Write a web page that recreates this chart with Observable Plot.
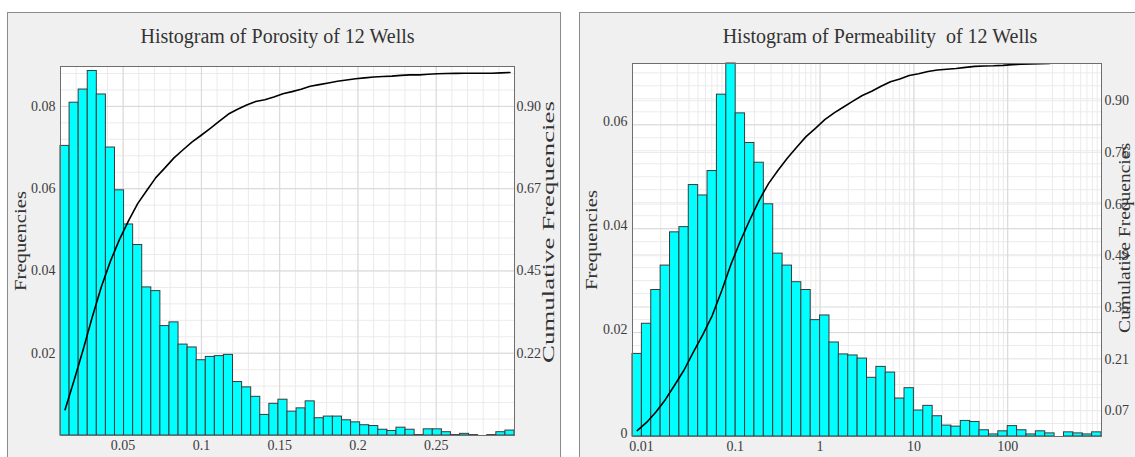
<!DOCTYPE html>
<html>
<head>
<meta charset="utf-8">
<script src="https://cdn.jsdelivr.net/npm/d3@7"></script>
<script src="https://cdn.jsdelivr.net/npm/@observablehq/plot@0.6"></script>
<style>
  html, body { margin: 0; padding: 0; background: #ffffff; }
  body { width: 1135px; height: 457px; overflow: hidden; position: relative; }
  .panel { position: absolute; top: 12px; height: 460px; background: #f0f0f0; border: 1px solid #8c8c8c; overflow: hidden; }
  .title { height: 40px; box-sizing: border-box; padding-top: 12px; font-family: 'Liberation Serif', 'Times New Roman', serif; font-size: 20px; line-height: 23px; color: #333; text-align: center; white-space: pre; }
</style>
</head>
<body>
<div class="panel" style="left:7px; width:552px;">
  <div class="title" style="width:539px;">Histogram of Porosity of 12 Wells</div>
  <div id="chart1"></div>
</div>
<div class="panel" style="left:579px; width:600px;">
  <div class="title" style="width:600px;">Histogram of Permeability  of 12 Wells</div>
  <div id="chart2"></div>
</div>
<script>
// ---------- Porosity histogram (left) ----------
const porosityRange = [0.01, 0.30];          // histogram range (50 equal bins)
const porosityFreq = [
  0.0704, 0.0809, 0.0841, 0.0886, 0.0829, 0.0700, 0.0596, 0.0513, 0.0463, 0.0360,
  0.0351, 0.0266, 0.0275, 0.0221, 0.0214, 0.0183, 0.0191, 0.0193, 0.0196, 0.0130,
  0.0117, 0.0094, 0.0050, 0.0077, 0.0087, 0.0058, 0.0066, 0.0083, 0.0042, 0.0046,
  0.0046, 0.0037, 0.0032, 0.0025, 0.0023, 0.0014, 0.0011, 0.0019, 0.0014, 0.0001,
  0.0015, 0.0015, 0.0008, 0.0001, 0.0004, 0.0001, 0.0000, 0.0001, 0.0008, 0.0012
];
const porosityXTicks = [0.05, 0.1, 0.15, 0.2, 0.25];
const porosityXLabels = ["0.05", "0.1", "0.15", "0.2", "0.25"];
const porosityYTicks = [0.02, 0.04, 0.06, 0.08];
const porosityYLabels = ["0.02", "0.04", "0.06", "0.08"];
const porosityCumTicks = [0.225, 0.45, 0.675, 0.9];
const porosityCumLabels = ["0.22", "0.45", "0.67", "0.90"];
const porosityYMax = 0.0897;
const porosityAxisMatch = {freq: 0.08, cum: 0.90};   // right axis value aligned with left axis value

// ---------- Permeability histogram (right, log x) ----------
const permLog10Range = [-2, 3];               // 0.01 .. 1000, 50 equal log bins
const permFreq = [
  0.0159, 0.0217, 0.0282, 0.0329, 0.0393, 0.0403, 0.0484, 0.0464, 0.0511, 0.0658,
  0.0718, 0.0622, 0.0565, 0.0527, 0.0447, 0.0352, 0.0329, 0.0297, 0.0282, 0.0224,
  0.0233, 0.0181, 0.0158, 0.0156, 0.0150, 0.0113, 0.0134, 0.0123, 0.0073, 0.0093,
  0.0050, 0.0059, 0.0039, 0.0021, 0.0019, 0.0030, 0.0028, 0.0012, 0.0004, 0.0010,
  0.0020, 0.0012, 0.0004, 0.0010, 0.0006, 0.0000, 0.0008, 0.0006, 0.0004, 0.0008
];
const permXTicksLow = [0.01, 0.1];           // these two labels sit right of their ticks in the reference
const permXLabelsLow = ["0.01", "0.1"];
const permXTicksHigh = [1, 10, 100];
const permXLabelsHigh = ["1", "10", "100"];
const permYTicks = [0, 0.02, 0.04, 0.06];
const permYLabels = ["0", "0.02", "0.04", "0.06"];
const permCumTicks = [0.0692, 0.2077, 0.3462, 0.4846, 0.6231, 0.7615, 0.9];
const permCumLabels = ["0.07", "0.21", "0.35", "0.49", "0.62", "0.76", "0.90"];
const permYMax = 0.0718;
const permAxisMatch = {freq: 0.0718, cum: 1.0};
const permCurveBins = 45;                      // cumulative curve drawn through first 45 bins

// ---------- helpers ----------
const FONT = "'Liberation Serif', 'Times New Roman', serif";
const MINOR = "#ebebeb", MAJOR = "#d8d8d8";
const labeler = (ticks, labels) => d => { const i = ticks.indexOf(d); return i >= 0 ? labels[i] : ""; };

// porosity bins
const nP = porosityFreq.length;
const wP = (porosityRange[1] - porosityRange[0]) / nP;
const porosityBins = porosityFreq.map((f, i) => ({
  x1: porosityRange[0] + i * wP, x2: porosityRange[0] + (i + 1) * wP,
  xc: porosityRange[0] + (i + 0.5) * wP, f
}));
const porosityCum = d3.cumsum(porosityFreq);
const kP = porosityAxisMatch.freq / porosityAxisMatch.cum;
const porosityCurve = porosityBins.map((b, i) => ({xc: b.xc, y: porosityCum[i] * kP}));
const porosityCumT = porosityCumTicks.map(c => c * kP);

// permeability bins
const nK = permFreq.length;
const dK = (permLog10Range[1] - permLog10Range[0]) / nK;
const permBins = permFreq.map((f, i) => ({
  x1: 10 ** (permLog10Range[0] + i * dK), x2: 10 ** (permLog10Range[0] + (i + 1) * dK),
  xc: 10 ** (permLog10Range[0] + (i + 0.5) * dK), f
}));
const permCum = d3.cumsum(permFreq);
const kK = permAxisMatch.freq / permAxisMatch.cum;
const permCurve = permBins.slice(0, permCurveBins).map((b, i) => ({xc: b.xc, y: permCum[i] * kK}));
const permCumT = permCumTicks.map(c => c * kK);
const permDomain = [10 ** permLog10Range[0], 10 ** permLog10Range[1]];
const permMinorX = d3.scaleLog().domain(permDomain).ticks();
const permMajorX = permXTicksLow.concat(permXTicksHigh);

const style = {fontFamily: FONT, fontSize: "14px", color: "#3c3c3c", background: "transparent", overflow: "visible"};
const axisTitle = {text: d => d, rotate: -90, textAnchor: "middle", lineAnchor: "middle", fontSize: 16, fill: "#333"};

const chart1 = Plot.plot({
  width: 552, height: 410,
  marginLeft: 52, marginRight: 46, marginTop: 13, marginBottom: 28,
  style,
  x: {domain: porosityRange},
  y: {domain: [0, porosityYMax]},
  marks: [
    Plot.frame({fill: "white", stroke: null}),
    Plot.gridX({ticks: d3.range(0.01, 0.2999, 0.01), stroke: MINOR, strokeOpacity: 1}),
    Plot.gridY({ticks: d3.range(0.004, porosityYMax, 0.004), stroke: MINOR, strokeOpacity: 1}),
    Plot.gridX({ticks: porosityXTicks, stroke: MAJOR, strokeOpacity: 1}),
    Plot.gridY({ticks: porosityYTicks, stroke: MAJOR, strokeOpacity: 1}),
    Plot.rectY(porosityBins, {x1: "x1", x2: "x2", y: "f", inset: 0, fill: "#00ffff", stroke: "#3a3a3a", strokeWidth: 1}),
    Plot.line(porosityCurve, {x: "xc", y: "y", stroke: "#000", strokeWidth: 1.6, clip: true}),
    Plot.frame({stroke: "#6e6e6e"}),
    Plot.axisX({ticks: porosityXTicks, tickFormat: labeler(porosityXTicks, porosityXLabels), tickSize: 0, tickPadding: 5, label: null}),
    Plot.axisY({ticks: porosityYTicks, tickFormat: labeler(porosityYTicks, porosityYLabels), tickSize: 0, tickPadding: 5, label: null}),
    Plot.axisY({anchor: "right", ticks: porosityCumT, tickFormat: labeler(porosityCumT, porosityCumLabels), tickSize: 0, tickPadding: 2, label: null}),
    Plot.text(["Frequencies"], {...axisTitle, frameAnchor: "left", dx: -40, dy: -10}),
    Plot.text(["Cumulative Frequencies"], {...axisTitle, frameAnchor: "right", dx: 34, dy: -19})
  ]
});

const chart2 = Plot.plot({
  width: 600, height: 410,
  marginLeft: 52, marginRight: 79, marginTop: 10, marginBottom: 27,
  style,
  x: {type: "log", domain: permDomain},
  y: {domain: [0, permYMax]},
  marks: [
    Plot.frame({fill: "white", stroke: null}),
    Plot.gridX({ticks: permMinorX, stroke: MINOR, strokeOpacity: 1}),
    Plot.gridY({ticks: d3.range(0.0025, permYMax, 0.0025), stroke: MINOR, strokeOpacity: 1}),
    Plot.gridY({ticks: permCumT, stroke: MINOR, strokeOpacity: 1}),
    Plot.gridX({ticks: permMajorX, stroke: MAJOR, strokeOpacity: 1}),
    Plot.gridY({ticks: permYTicks, stroke: MAJOR, strokeOpacity: 1}),
    Plot.rectY(permBins, {x1: "x1", x2: "x2", y: "f", inset: 0, fill: "#00ffff", stroke: "#3a3a3a", strokeWidth: 1}),
    Plot.line(permCurve, {x: "xc", y: "y", stroke: "#000", strokeWidth: 1.6, clip: true}),
    Plot.frame({stroke: "#6e6e6e"}),
    Plot.axisX({ticks: permXTicksLow, tickFormat: labeler(permXTicksLow, permXLabelsLow), tickSize: 0, tickPadding: 5, dx: 9, label: null}),
    Plot.axisX({ticks: permXTicksHigh, tickFormat: labeler(permXTicksHigh, permXLabelsHigh), tickSize: 0, tickPadding: 5, label: null}),
    Plot.axisY({ticks: permYTicks, tickFormat: labeler(permYTicks, permYLabels), tickSize: 0, tickPadding: 5, dy: -3, label: null}),
    Plot.axisY({anchor: "right", ticks: permCumT, tickFormat: labeler(permCumT, permCumLabels), tickSize: 0, tickPadding: 3, label: null}),
    Plot.text(["Frequencies"], {...axisTitle, frameAnchor: "left", dx: -41, dy: -10}),
    Plot.text(["Cumulative Frequencies"], {...axisTitle, frameAnchor: "right", dx: 23, dy: -12})
  ]
});

document.getElementById("chart1").append(chart1);
document.getElementById("chart2").append(chart2);

// stretch the rotated axis titles along their baseline (about their centre) like the reference
function stretch(svg, str, len) {
  svg.querySelectorAll("text").forEach(t => {
    if (t.textContent !== str) return;
    const natural = t.getComputedTextLength();
    if (!natural) return;
    const s = len / natural;
    const tr = t.getAttribute("transform");
    if (tr) t.setAttribute("transform", tr + ` scale(${s},1)`);
    else {
      const g = t.parentNode;
      const gt = g.getAttribute("transform") || "";
      g.setAttribute("transform", gt + ` scale(${s},1)`);
    }
  });
}
stretch(chart1, "Frequencies", 100);
stretch(chart1, "Cumulative Frequencies", 262);
stretch(chart2, "Frequencies", 100);
stretch(chart2, "Cumulative Frequencies", 190);
</script>
</body>
</html>
